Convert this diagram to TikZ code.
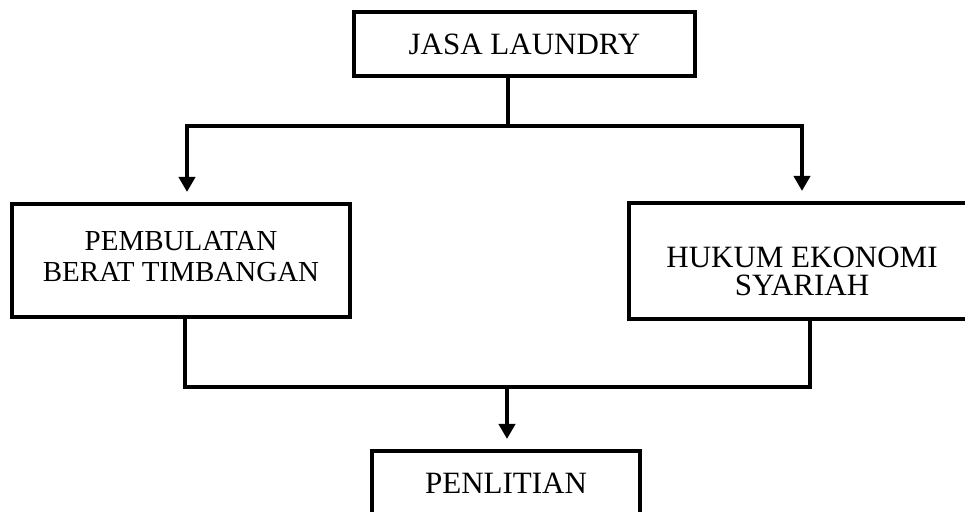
\documentclass[tikz,border=0pt]{standalone}
\usepackage{fontspec}
\setmainfont{Liberation Serif}
\usetikzlibrary{arrows.meta}

\begin{document}
\begin{tikzpicture}[x=0.5pt, y=-0.5pt,
                    flowbox/.style={rectangle, draw=black, line width=2pt, align=center, inner sep=0pt, font=\fontsize{15.5}{15.5}\selectfont},
                    flowline/.style={line width=2pt},
                    flowarrow/.style={line width=2pt, -{Triangle[width=8pt, length=7.5pt]}, shorten >=5pt}
                ]
                    \clip (0,0) rectangle (965,512);
                    \node[flowbox, minimum width=170.5pt, minimum height=32pt] (jasa) at (524.5,44) {JASA LAUNDRY};
                    \node[flowbox, minimum width=169pt, minimum height=56.5pt, font=\fontsize{14.5}{15.5}\selectfont] (pembulatan) at (181,260.5) {PEMBULATAN\\BERAT TIMBANGAN\rule[-4pt]{0pt}{4pt}};
                    \node[flowbox, minimum width=173pt, minimum height=58pt, font=\fontsize{15.5}{14}\selectfont] (hukum) at (802,261) {\rule{0pt}{21pt}HUKUM EKONOMI\\SYARIAH};
                    \node[flowbox, minimum width=134pt, minimum height=32pt] (penelitian) at (506,483) {PENLITIAN};

                    \coordinate (split) at (508,126);
                    \coordinate (splitL) at (187,126);
                    \coordinate (splitR) at (802,126);
                    \coordinate (join) at (507,387);
                    \coordinate (joinL) at (185,387);
                    \coordinate (joinR) at (810,387);

                    \draw[flowline] (jasa.south -| split) -- (split);
                    \draw[flowarrow] (split) -- (splitL) -- (splitL |- pembulatan.north);
                    \draw[flowarrow] (split) -- (splitR) -- (splitR |- hukum.north);
                    \draw[flowline] (joinL |- pembulatan.south) -- (joinL) -- (joinR) -- (joinR |- hukum.south);
                    \draw[flowarrow] (join) -- (join |- penelitian.north);
                \end{tikzpicture}
\end{document}
